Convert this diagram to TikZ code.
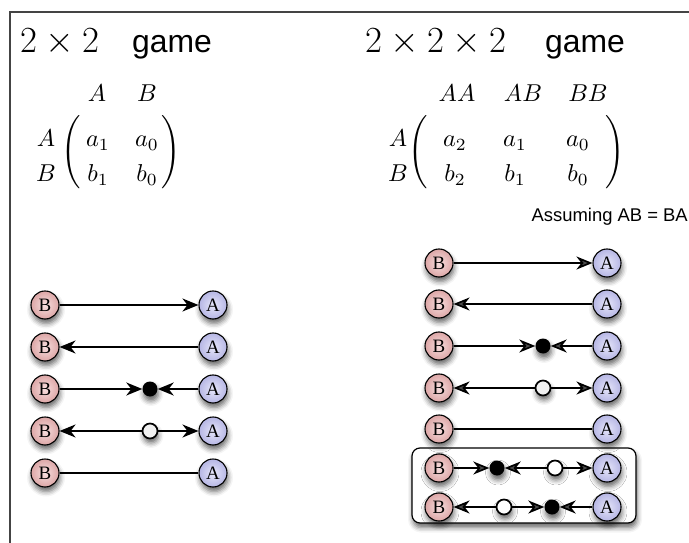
\RequirePackage{fix-cm}
\documentclass[tikz,border=0pt]{standalone}
\usepackage{fontspec}
\usetikzlibrary{arrows.meta,shadows.blur}
\newfontfamily\sansf{Liberation Sans}
\newfontfamily\serf{Liberation Serif}
\definecolor{pinkin}{HTML}{F7DEDE}
\definecolor{pinkout}{HTML}{DCA6A6}
\definecolor{bluein}{HTML}{E6E6FA}
\definecolor{blueout}{HTML}{B6B6E4}
\definecolor{framegray}{HTML}{444444}
\tikzset{
  shd/.style={blur shadow={shadow xshift=1bp, shadow yshift=-4.5bp,
      shadow blur radius=5bp, shadow opacity=60}},
  ball/.style={circle, draw=black, line width=1.1bp, minimum size=28bp,
      inner sep=0pt, font=\serf\fontsize{19}{19}\selectfont, shd},
  ballB/.style={ball, inner color=pinkin, outer color=pinkout},
  ballA/.style={ball, inner color=bluein, outer color=blueout},
  stable/.style={circle, fill=black, minimum size=15bp, inner sep=0pt, shd},
  unstable/.style={circle, draw=black, line width=1.7bp, fill=#1,
      minimum size=15bp, inner sep=0pt, shd},
  unstable/.default={gray!12},
  arr/.style={line width=1.7bp, -{Stealth[length=16bp, width=13bp, inset=5bp]}},
  plain/.style={line width=1.7bp},
  title/.style={anchor=base west, inner sep=0pt},
  mth/.style={anchor=base, inner sep=0pt, font=\fontsize{10}{12}\selectfont, scale=2.45},
  paren/.style={anchor=center, inner sep=0pt, font=\fontsize{10}{12}\selectfont, scale=2.45},
  note/.style={anchor=base east, inner sep=0pt, font=\sansf\fontsize{18.5}{20}\selectfont},
  groupbox/.style={draw=black, line width=1.2bp, fill=white, rounded corners=8bp, shd}
}
\newcommand{\bigparen}[1]{$\nulldelimiterspace=0pt
  \ifx#1(\left(\vrule height 13.5bp depth 13.5bp width 0pt\right.%
  \else\left.\vrule height 13.5bp depth 13.5bp width 0pt\right)\fi$}
\begin{document}
\begin{tikzpicture}[x=1bp, y=-1bp]
\useasboundingbox (0,0) rectangle (689,543);

% frame edges
\draw[framegray, line width=1.3bp] (10,543) -- (10,12) -- (689,12);

% titles
\node[title] (t1m) at (20,53) {\fontsize{37}{40}\selectfont$2\times2$};
\node[title] (t1g) at (132,53) {\sansf\fontsize{32}{36}\selectfont game};
\node[title] (t2m) at (365,53) {\fontsize{37}{40}\selectfont$2\times2\times2$};
\node[title] (t2g) at (545,53) {\sansf\fontsize{32}{36}\selectfont game};

% 2x2 payoff matrix
\node[mth] (h1a) at (97,102) {$A$};
\node[mth] (h1b) at (147,102) {$B$};
\node[mth] (r1a) at (46,147) {$A$};
\node[mth] (r1b) at (46,182) {$B$};
\node[mth] (m11) at (98,147) {$a_1$};
\node[mth] (m12) at (147,147) {$a_0$};
\node[mth] (m21) at (98,182) {$b_1$};
\node[mth] (m22) at (147,182) {$b_0$};
\node[paren] (p1l) at (71,153.5) {\bigparen(};
\node[paren] (p1r) at (171,153.5) {\bigparen)};

% 2x2x2 payoff matrix
\node[mth] (h2aa) at (457,102) {$AA$};
\node[mth] (h2ab) at (523,102) {$AB$};
\node[mth] (h2bb) at (588,102) {$BB$};
\node[mth] (r2a) at (398,147) {$A$};
\node[mth] (r2b) at (398,182) {$B$};
\node[mth] (n11) at (455,147) {$a_2$};
\node[mth] (n12) at (515,147) {$a_1$};
\node[mth] (n13) at (578,147) {$a_0$};
\node[mth] (n21) at (455,182) {$b_2$};
\node[mth] (n22) at (515,182) {$b_1$};
\node[mth] (n23) at (578,182) {$b_0$};
\node[paren] (p2l) at (418,153.5) {\bigparen(};
\node[paren] (p2r) at (615,153.5) {\bigparen)};
\node[note] (assume) at (688,222) {Assuming AB = BA};

% ---- 2x2 dynamics ----
\foreach \i/\y in {1/305,2/347,3/389,4/431,5/473}{
  \node[ballB] (lb\i) at (45,\y) {B};
  \node[ballA] (la\i) at (213,\y) {A};
}
\node[stable] (ls3) at (150,389) {};
\node[unstable] (lu4) at (150,431) {};
\draw[arr] (lb1) -- (la1);
\draw[arr] (la2) -- (lb2);
\draw[arr] (lb3) -- (ls3);
\draw[arr] (la3) -- (ls3);
\draw[arr] (lu4) -- (lb4);
\draw[arr] (lu4) -- (la4);
\draw[plain] (lb5) -- (la5);

% ---- 2x2x2 dynamics ----
\draw[groupbox] (412,448) rectangle (636,523);
\foreach \i/\y in {1/263,2/304,3/346,4/388,5/429,6/468,7/507}{
  \node[ballB] (rb\i) at (439,\y) {B};
  \node[ballA] (ra\i) at (607,\y) {A};
}
\node[stable] (rs3) at (543,346) {};
\node[unstable] (ru4) at (543,388) {};
\node[stable] (rs6) at (497,468) {};
\node[unstable=white] (ru6) at (555,468) {};
\node[unstable=white] (ru7) at (504,507) {};
\node[stable] (rs7) at (552,507) {};
\draw[arr] (rb1) -- (ra1);
\draw[arr] (ra2) -- (rb2);
\draw[arr] (rb3) -- (rs3);
\draw[arr] (ra3) -- (rs3);
\draw[arr] (ru4) -- (rb4);
\draw[arr] (ru4) -- (ra4);
\draw[plain] (rb5) -- (ra5);
\draw[arr] (rb6) -- (rs6);
\draw[arr] (ru6) -- (rs6);
\draw[arr] (ru6) -- (ra6);
\draw[arr] (ru7) -- (rb7);
\draw[arr] (ru7) -- (rs7);
\draw[arr] (ra7) -- (rs7);
\end{tikzpicture}
\end{document}
